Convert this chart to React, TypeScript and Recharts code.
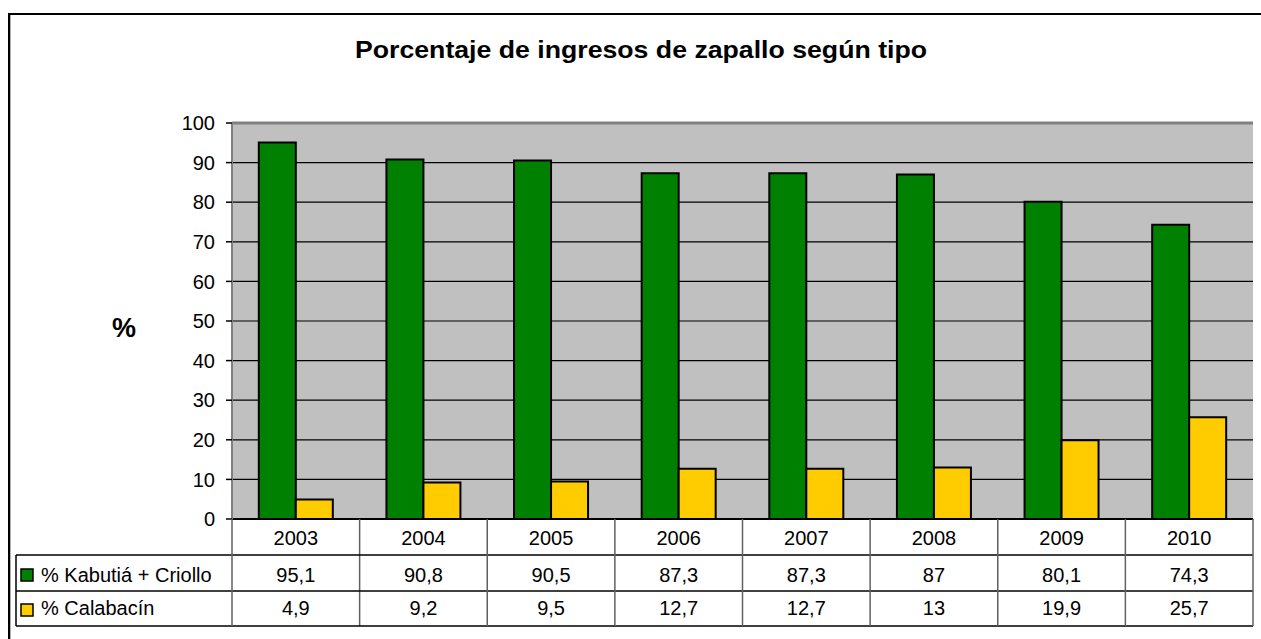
import React from 'react';
import { BarChart, Bar, XAxis, YAxis, CartesianGrid, ReferenceLine } from 'recharts';

const years = ['2003', '2004', '2005', '2006', '2007', '2008', '2009', '2010'];
const kabutia = [95.1, 90.8, 90.5, 87.3, 87.3, 87, 80.1, 74.3];
const calabacin = [4.9, 9.2, 9.5, 12.7, 12.7, 13, 19.9, 25.7];
const yTicks = [0, 10, 20, 30, 40, 50, 60, 70, 80, 90, 100];
const seriesNames = ['% Kabutiá + Criollo', '% Calabacín'];
const title = 'Porcentaje de ingresos de zapallo según tipo';

const data = years.map((y, i) => ({ year: y, kab: kabutia[i], cal: calabacin[i] }));

const W = 1261;
const H = 639;
const PLOT_LEFT = 232;
const PLOT_RIGHT = 1253;
const BAND = (PLOT_RIGHT - PLOT_LEFT) / years.length;
const FONT = '"Liberation Sans", Arial, sans-serif';
const GREEN = '#008000';
const YELLOW = '#FFCC00';

const fmt = (v: number) => String(v).replace('.', ',');

const TableTick = (props: any) => {
  const { x, y, payload } = props;
  const i = payload && payload.index !== undefined ? payload.index : props.index;
  const half = BAND / 2;
  const r1 = y + 36;
  const r2 = y + 72;
  const r3 = y + 107;
  const txt = { fontFamily: FONT, fontSize: 20, fill: '#000', textAnchor: 'middle' as const };
  return (
    <g>
      <text x={x} y={y + 26} {...txt}>{years[i]}</text>
      <text x={x} y={y + 63} {...txt}>{fmt(kabutia[i])}</text>
      <text x={x} y={y + 96} {...txt}>{fmt(calabacin[i])}</text>
      <line x1={x + half} x2={x + half} y1={y} y2={r3} stroke="#606060" strokeWidth={1.5} />
      {i === 0 && (
        <g>
          <line x1={16} x2={PLOT_RIGHT} y1={r1} y2={r1} stroke="#000" strokeWidth={1.5} />
          <line x1={16} x2={PLOT_RIGHT} y1={r2} y2={r2} stroke="#000" strokeWidth={1.5} />
          <line x1={16} x2={PLOT_RIGHT} y1={r3} y2={r3} stroke="#000" strokeWidth={1.5} />
          <line x1={16} x2={16} y1={r1} y2={r3} stroke="#000" strokeWidth={1.5} />
          <line x1={PLOT_LEFT} x2={PLOT_LEFT} y1={y} y2={r3} stroke="#606060" strokeWidth={1.5} />
          <rect x={21} y={r1 + 14} width={12} height={12} fill={GREEN} stroke="#000" strokeWidth={1.5} />
          <rect x={21} y={r2 + 13} width={12} height={12} fill={YELLOW} stroke="#000" strokeWidth={1.5} />
          <text x={41} y={y + 63} fontFamily={FONT} fontSize={20} fill="#000">{seriesNames[0]}</text>
          <text x={41} y={y + 96} fontFamily={FONT} fontSize={20} fill="#000">{seriesNames[1]}</text>
        </g>
      )}
    </g>
  );
};

export default function App() {
  return (
    <div style={{ position: 'absolute', left: 0, top: 0, width: W, height: H, background: '#fff', overflow: 'hidden' }}>
      <svg style={{ position: 'absolute', left: 0, top: 0, display: 'block' }} width={W} height={H}>
        <path d={`M9 ${H} L9 14 L${W} 14`} fill="none" stroke="#000" strokeWidth={2} />
        <line x1={10.5} x2={10.5} y1={15} y2={H} stroke="#b0b0b0" strokeWidth={1} />
        <text
          x={355}
          y={58}
          textLength={572}
          lengthAdjust="spacingAndGlyphs"
          fontFamily={FONT}
          fontWeight="bold"
          fontSize={24}
          fill="#000"
        >
          {title}
        </text>
        <text x={112} y={337} fontFamily={FONT} fontWeight="bold" fontSize={27} fill="#000">
          %
        </text>
      </svg>
      <div style={{ position: 'absolute', left: 0, top: 0 }}>
        <BarChart
          width={W}
          height={H}
          data={data}
          margin={{ top: 123, right: 8, bottom: 0, left: 172 }}
          barCategoryGap="21%"
          barGap={0}
        >
          <CartesianGrid horizontal vertical={false} stroke="#000" strokeWidth={1.2} fill="#C0C0C0" fillOpacity={1} />
          <XAxis
            dataKey="year"
            height={120}
            interval={0}
            tickLine={false}
            tickSize={0}
            tickMargin={0}
            axisLine={{ stroke: '#000', strokeWidth: 2 }}
            tick={<TableTick />}
          />
          <YAxis
            domain={[0, 100]}
            ticks={yTicks}
            width={60}
            tickSize={6}
            tickMargin={11}
            interval={0}
            axisLine={{ stroke: '#808080', strokeWidth: 2 }}
            tickLine={{ stroke: '#000', strokeWidth: 1.5 }}
            tick={{ fontFamily: FONT, fontSize: 20, fill: '#000' }}
          />
          <YAxis
            yAxisId="r"
            orientation="right"
            domain={[0, 100]}
            width={0}
            tick={false}
            tickLine={false}
            axisLine={{ stroke: '#808080', strokeWidth: 3 }}
          />
          <ReferenceLine y={100} stroke="#808080" strokeWidth={3} />
          <Bar dataKey="kab" fill={GREEN} stroke="#000" strokeWidth={2} isAnimationActive={false} />
          <Bar dataKey="cal" fill={YELLOW} stroke="#000" strokeWidth={2} isAnimationActive={false} />
        </BarChart>
      </div>
    </div>
  );
}
